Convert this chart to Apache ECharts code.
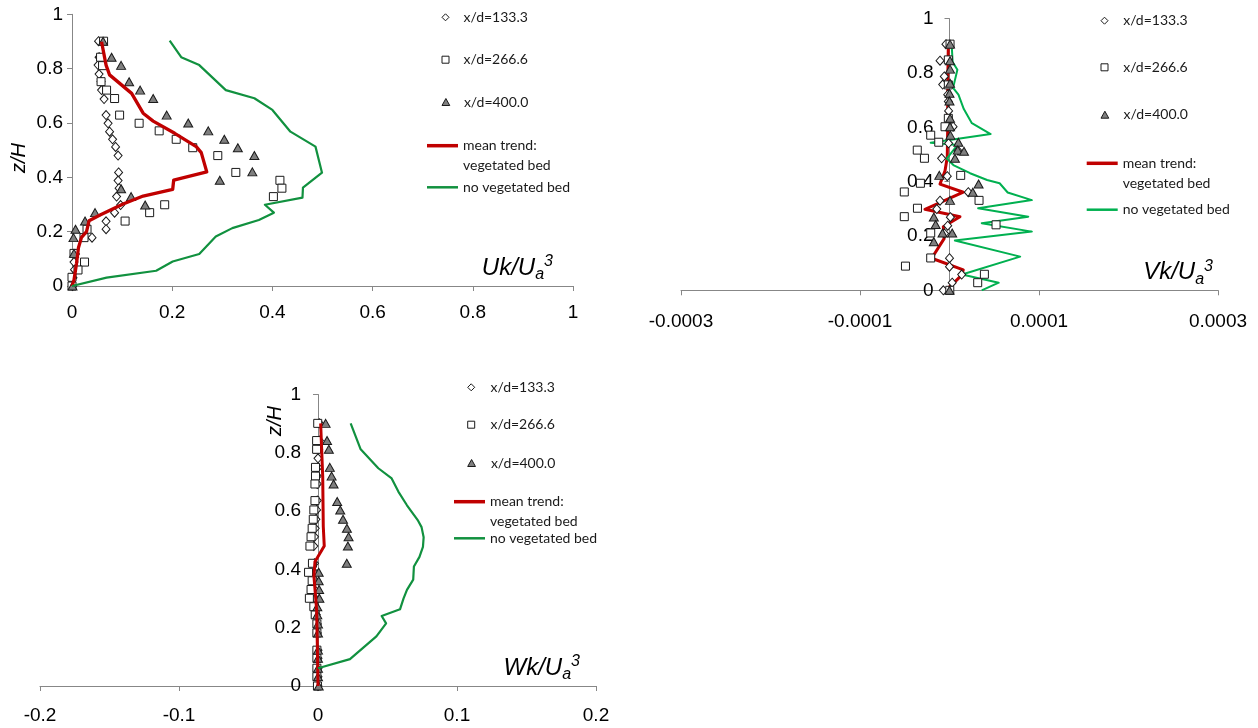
<!DOCTYPE html>
<html>
<head>
<meta charset="utf-8">
<script src="https://cdn.jsdelivr.net/npm/echarts@6/dist/echarts.min.js"></script>
<style>
  html, body { margin: 0; padding: 0; background: #fff; }
  #chart { width: 1258px; height: 728px; }
</style>
</head>
<body>
<div id="chart"></div>
<script>
// Legend names shared by the three panels
const seriesNames = ['x/d=133.3', 'x/d=266.6', 'x/d=400.0', 'mean trend:\nvegetated bed', 'no vegetated bed'];

// Axis ticks
const uTicks = { min: 0, max: 1, interval: 0.2 };
const vTicks = { min: -0.0003, max: 0.0003, interval: 0.0002 };
const wTicks = { min: -0.2, max: 0.2, interval: 0.1 };
const zTicks = { min: 0, max: 1, interval: 0.2 };

// ---- Uk/Ua^3 profiles : [value, z/H] ----
const uk133 = [[0.053,0.901],[0.054,0.842],[0.052,0.813],[0.054,0.780],[0.058,0.753],[0.059,0.721],[0.064,0.688],
  [0.068,0.629],[0.072,0.599],[0.075,0.568],[0.081,0.540],[0.087,0.512],[0.092,0.480],[0.093,0.418],[0.092,0.388],
  [0.094,0.360],[0.089,0.329],[0.097,0.298],[0.085,0.270],[0.068,0.238],[0.068,0.209],[0.040,0.178],[0.007,0.118],
  [0.004,0.088],[0.005,0.060],[0.002,0.030],[0.001,0.000]];
const uk266 = [[0.063,0.901],[0.057,0.842],[0.061,0.811],[0.058,0.752],[0.069,0.721],[0.085,0.690],[0.095,0.629],
  [0.134,0.599],[0.174,0.571],[0.208,0.540],[0.241,0.509],[0.291,0.480],[0.327,0.418],[0.415,0.389],[0.419,0.360],
  [0.402,0.329],[0.185,0.299],[0.155,0.270],[0.106,0.239],[0.030,0.209],[0.024,0.178],[0.004,0.120],[0.025,0.088],
  [0.012,0.059],[0.000,0.032],[0.000,0.000]];
const uk400 = [[0.062,0.901],[0.079,0.842],[0.098,0.812],[0.114,0.752],[0.136,0.721],[0.162,0.690],[0.189,0.629],
  [0.232,0.600],[0.272,0.571],[0.304,0.540],[0.331,0.509],[0.364,0.480],[0.360,0.420],[0.295,0.389],[0.098,0.358],
  [0.118,0.329],[0.146,0.298],[0.046,0.270],[0.026,0.239],[0.007,0.209],[0.003,0.178],[0.004,0.120],[0.001,0.000]];
const ukVegetated = [[0.059,0.899],[0.068,0.813],[0.075,0.777],[0.119,0.709],[0.142,0.636],[0.162,0.607],[0.205,0.562],
  [0.248,0.513],[0.258,0.491],[0.269,0.420],[0.203,0.390],[0.201,0.356],[0.142,0.331],[0.102,0.302],[0.056,0.261],
  [0.034,0.240],[0.029,0.200],[0.019,0.179],[0.013,0.142],[0.009,0.083],[0.004,0.022],[0.000,0.000]];
const ukBare = [[0.195,0.903],[0.218,0.842],[0.254,0.813],[0.307,0.721],[0.364,0.691],[0.400,0.648],[0.436,0.568],
  [0.486,0.513],[0.499,0.417],[0.461,0.362],[0.460,0.325],[0.385,0.299],[0.403,0.270],[0.373,0.243],[0.320,0.213],
  [0.287,0.182],[0.254,0.118],[0.201,0.090],[0.168,0.056],[0.069,0.031],[0.000,0.000]];

// ---- Vk/Ua^3 profiles ----
const vk133 = [[-0.4e-5,0.906],[-1.06e-5,0.845],[-0.58e-5,0.787],[-0.76e-5,0.757],[-0.2e-5,0.720],[-0.13e-5,0.695],
  [-0.1e-5,0.660],[0.4e-5,0.602],[-0.1e-5,0.541],[0.95e-5,0.514],[-0.88e-5,0.486],[-0.25e-5,0.420],[2.1e-5,0.361],
  [-1.06e-5,0.330],[-1.42e-5,0.299],[0.1e-5,0.269],[-0.2e-5,0.238],[-0.55e-5,0.209],[0.0,0.118],[0.0,0.087],
  [1.36e-5,0.058],[0.3e-5,0.028],[-0.69e-5,0.000]];
const vk266 = [[0.06e-5,0.906],[-0.13e-5,0.848],[-0.13e-5,0.756],[-0.13e-5,0.633],[-0.5e-5,0.602],[-2.1e-5,0.571],
  [-1.2e-5,0.545],[-3.6e-5,0.516],[-2.8e-5,0.486],[1.25e-5,0.423],[-3.25e-5,0.394],[-5.05e-5,0.362],[3.3e-5,0.331],
  [-3.58e-5,0.302],[-5.05e-5,0.271],[5.2e-5,0.241],[-2.1e-5,0.211],[-2.1e-5,0.119],[-4.92e-5,0.089],[3.9e-5,0.059],
  [3.15e-5,0.028],[0.03e-5,0.000]];
const vk400 = [[0.06e-5,0.906],[0.06e-5,0.845],[0.06e-5,0.814],[0.06e-5,0.762],[0.0,0.725],[0.0,0.697],[0.06e-5,0.633],
  [0.06e-5,0.602],[0.1e-5,0.571],[0.99e-5,0.545],[0.92e-5,0.516],[1.62e-5,0.512],[0.61e-5,0.486],[-1.14e-5,0.423],
  [3.25e-5,0.391],[2.6e-5,0.361],[0.06e-5,0.331],[-1.75e-5,0.270],[-1.55e-5,0.242],[0.3e-5,0.211],[-0.78e-5,0.211],
  [-1.75e-5,0.179],[0.0,0.000]];
const vkVegetated = [[-0.13e-5,0.906],[-0.2e-5,0.750],[-0.2e-5,0.600],[-0.25e-5,0.490],[-0.5e-5,0.440],[-1.06e-5,0.391],
  [1.54e-5,0.361],[-2.74e-5,0.298],[1.17e-5,0.271],[-0.69e-5,0.234],[-0.6e-5,0.190],[-1.99e-5,0.118],[1.54e-5,0.075],
  [1.36e-5,0.056],[0.24e-5,0.019],[-0.5e-5,0.000]];
const vkBare = [[0.24e-5,0.906],[0.35e-5,0.840],[0.88e-5,0.812],[0.4e-5,0.745],[1.0e-5,0.720],[1.6e-5,0.667],
  [2.5e-5,0.615],[4.6e-5,0.575],[-2.1e-5,0.543],[0.9e-5,0.535],[-0.3e-5,0.485],[0.43e-5,0.461],[2.3e-5,0.431],
  [4.2e-5,0.406],[5.6e-5,0.394],[6.5e-5,0.360],[9.2e-5,0.332],[3.2e-5,0.302],[8.8e-5,0.271],[3.6e-5,0.247],
  [9.2e-5,0.216],[0.6e-5,0.183],[7.9e-5,0.124],[1.4e-5,0.058],[5.5e-5,0.028],[3.6e-5,0.000]];

// ---- Wk/Ua^3 profiles ----
const wk133 = [[0.001,0.901],[0.001,0.842],[0.0005,0.812],[0.0,0.781],[0.0,0.750],[-0.0005,0.720],[-0.0005,0.693],
  [-0.0005,0.636],[-0.001,0.604],[-0.0015,0.572],[-0.002,0.541],[-0.0025,0.512],[-0.003,0.480],[-0.0025,0.421],
  [-0.003,0.390],[-0.002,0.361],[-0.0025,0.331],[-0.002,0.301],[-0.002,0.272],[-0.0012,0.244],[-0.0005,0.213],
  [-0.0005,0.182],[0.0,0.123],[0.0,0.095],[0.0,0.061],[0.0,0.032],[0.0,0.000]];
const wk266 = [[-0.0002,0.901],[-0.001,0.842],[-0.001,0.812],[-0.0018,0.750],[-0.0018,0.720],[-0.0022,0.693],
  [-0.0022,0.636],[-0.003,0.604],[-0.0034,0.572],[-0.0042,0.541],[-0.005,0.512],[-0.0058,0.480],[-0.004,0.421],
  [-0.0068,0.390],[-0.0042,0.361],[-0.005,0.331],[-0.0062,0.301],[-0.003,0.272],[-0.002,0.244],[-0.0008,0.213],
  [-0.0008,0.182],[-0.0008,0.123],[-0.0008,0.095],[-0.0008,0.061],[-0.0008,0.032],[-0.0004,0.000]];
const wk400 = [[0.0055,0.901],[0.0065,0.842],[0.0078,0.812],[0.0085,0.750],[0.0098,0.720],[0.0112,0.693],
  [0.0138,0.633],[0.016,0.604],[0.018,0.572],[0.0208,0.541],[0.022,0.512],[0.0215,0.480],[0.0207,0.421],
  [0.0005,0.390],[0.0005,0.361],[0.0008,0.331],[0.001,0.301],[-0.0005,0.272],[-0.0005,0.244],[0.0,0.213],
  [0.0,0.182],[0.0,0.123],[0.0,0.095],[0.0,0.061],[0.0,0.032],[0.0005,0.000]];
const wkVegetated = [[0.0019,0.901],[0.0034,0.718],[0.0038,0.547],[0.0045,0.480],[-0.0022,0.426],[-0.0029,0.375],
  [-0.001,0.261],[-0.0005,0.146],[0.0,0.000]];
const wkBare = [[0.0235,0.901],[0.0307,0.812],[0.0434,0.747],[0.053,0.712],[0.0578,0.667],[0.064,0.620],
  [0.072,0.567],[0.0745,0.545],[0.076,0.510],[0.0755,0.477],[0.073,0.443],[0.069,0.410],[0.0685,0.365],
  [0.064,0.330],[0.0615,0.300],[0.059,0.263],[0.0458,0.240],[0.049,0.215],[0.042,0.170],[0.023,0.092],[0.0,0.061]];

// ---------------------------------------------------------------
const AXIS_GREY = '#878787';
const RED = '#C00000';
const GREEN_DARK = '#11913F';
const GREEN_LIGHT = '#00B050';
const TRI_FILL = '#7F7F7F';
const LABEL_FONT = 'Liberation Sans';
const LEGEND_FONT = 'Lato';
const LEGEND_SIZE = 14;

const ICON_DIAMOND = 'path://M5,0 L10,5 L5,10 L0,5 Z';
const ICON_SQUARE = 'path://M0,0 L10,0 L10,10 L0,10 Z';
const ICON_TRIANGLE = 'path://M5,0 L10,9 L0,9 Z';

// "Xk/Ua3" axis title with subscript a and superscript 3
function axisTitle(letter, gap) {
  const base = { fontFamily: LABEL_FONT, fontStyle: 'italic', color: '#000' };
  return {
    name: '{m|' + letter + 'k/U}{s|a}{p|3}',
    nameLocation: 'end',
    nameGap: gap,
    nameTextStyle: {
      align: 'right', verticalAlign: 'bottom', padding: [0, 0, 3, 0],
      rich: {
        m: Object.assign({ fontSize: 24, lineHeight: 29 }, base),
        s: Object.assign({ fontSize: 16, lineHeight: 13, verticalAlign: 'bottom' }, base),
        p: Object.assign({ fontSize: 16, lineHeight: 15, verticalAlign: 'top' }, base)
      }
    }
  };
}

function valueAxis(grid, ticks, labelMargin, extra) {
  return Object.assign({
    type: 'value', gridIndex: grid,
    min: ticks.min, max: ticks.max, interval: ticks.interval,
    splitLine: { show: false },
    axisLine: { show: true, onZero: false, lineStyle: { color: AXIS_GREY, width: 1 } },
    axisTick: { show: true, length: 5, lineStyle: { color: AXIS_GREY } },
    axisLabel: { fontFamily: LABEL_FONT, fontSize: 19, color: '#000', margin: labelMargin },
    animation: false
  }, extra || {});
}

function markers(name, data, idx, icon, size, fill, z) {
  return {
    type: 'scatter', name, data, xAxisIndex: idx, yAxisIndex: idx,
    symbol: icon, symbolSize: size, z, silent: true,
    itemStyle: { color: fill, borderColor: '#1a1a1a', borderWidth: 1, opacity: 1 }
  };
}

function trace(name, data, idx, color, width, z) {
  return {
    type: 'line', name, data, xAxisIndex: idx, yAxisIndex: idx,
    symbol: 'none', showSymbol: false, z, silent: true,
    lineStyle: { color, width, join: 'round' }, itemStyle: { color }
  };
}

// One legend component per row, so each row sits exactly where it belongs
function legendRows(textX, markerX, rows, green) {
  const out = [];
  const mW = 2 * (textX - 5 - markerX);
  const lineW = 31;
  const text = { fontFamily: LEGEND_FONT, fontSize: LEGEND_SIZE, color: '#1a1a1a' };
  const base = { orient: 'horizontal', padding: 0, selectedMode: false, textStyle: text };
  const icons = [ICON_DIAMOND, ICON_SQUARE, ICON_TRIANGLE];
  const fills = ['#fff', '#fff', TRI_FILL];
  for (let i = 0; i < 3; i++) {
    out.push(Object.assign({}, base, {
      left: markerX - 3.5, top: rows[i] - 9,
      itemWidth: mW, itemHeight: 7,
      data: [{ name: seriesNames[i], icon: icons[i] }],
      itemStyle: { color: fills[i], borderColor: '#1a1a1a', borderWidth: 1 },
      formatter: n => '{a|' + n + '}',
      textStyle: Object.assign({}, text, { rich: { a: Object.assign({ lineHeight: 18 }, text) } })
    }));
  }
  // two-line label: a blank first line keeps "mean trend:" level with the line icon
  out.push(Object.assign({}, base, {
    left: textX - 5 - lineW, top: rows[3] - 27,
    itemWidth: lineW, itemHeight: 3.5,
    data: [{ name: seriesNames[3], icon: 'rect' }],
    itemStyle: { color: RED, borderWidth: 0 },
    formatter: n => '{a| }\n' + n.split('\n').map(s => '{a|' + s + '}').join('\n'),
    textStyle: Object.assign({}, text, { rich: { a: Object.assign({ lineHeight: 20 }, text) } })
  }));
  out.push(Object.assign({}, base, {
    left: textX - 5 - lineW, top: rows[4] - 8,
    itemWidth: lineW, itemHeight: 2.5,
    data: [{ name: seriesNames[4], icon: 'rect' }],
    itemStyle: { color: green, borderWidth: 0 },
    formatter: n => '{a|' + n + '}',
    textStyle: Object.assign({}, text, { rich: { a: Object.assign({ lineHeight: 18 }, text) } })
  }));
  return out;
}

const chart = echarts.init(document.getElementById('chart'), null, { renderer: 'canvas' });

const zTitle = { fontFamily: LABEL_FONT, fontStyle: 'italic', fontSize: 20, fill: '#000', align: 'center', verticalAlign: 'middle' };

const option = {
  backgroundColor: '#fff',
  animation: false,
  grid: [
    { left: 72, right: 685, top: 14.3, bottom: 442, containLabel: false },
    { left: 681, right: 40, top: 18.6, bottom: 437.7, containLabel: false },
    { left: 40, right: 662, top: 394.5, bottom: 42, containLabel: false }
  ],
  xAxis: [
    valueAxis(0, uTicks, 17, axisTitle('U', -20)),
    valueAxis(1, vTicks, 22, Object.assign(axisTitle('V', -5), {
      axisLabel: { fontFamily: LABEL_FONT, fontSize: 19, color: '#000', margin: 22,
        formatter: v => v.toFixed(4) }
    })),
    valueAxis(2, wTicks, 20, axisTitle('W', -16))
  ],
  yAxis: [
    valueAxis(0, zTicks, 9),
    // vertical axes of the V and W panels stand on x = 0
    valueAxis(1, zTicks, 16, { offset: -268.5 }),
    valueAxis(2, zTicks, 17, { offset: -278 })
  ],
  legend: [].concat(
    legendRows(463, 445, [19.3, 61.7, 104, 145.7, 188.3], GREEN_DARK),
    legendRows(1122.7, 1104, [22.7, 69.3, 116.7, 163.3, 210.7], GREEN_LIGHT),
    legendRows(490, 470.7, [389.3, 426.7, 465, 501.7, 539.3], GREEN_DARK)
  ),
  graphic: [
    { type: 'text', x: 19, y: 158, rotation: Math.PI / 2, style: Object.assign({ text: 'z/H' }, zTitle) },
    { type: 'text', x: 275, y: 421, rotation: Math.PI / 2, style: Object.assign({ text: 'z/H' }, zTitle) }
  ],
  series: [
    // Uk panel: curves drawn over the markers
    markers(seriesNames[0], uk133, 0, 'diamond', [8, 9], '#fff', 2),
    markers(seriesNames[1], uk266, 0, 'rect', 8, '#fff', 2),
    markers(seriesNames[2], uk400, 0, 'triangle', [9, 8], TRI_FILL, 2),
    trace(seriesNames[3], ukVegetated, 0, RED, 3.3, 3),
    trace(seriesNames[4], ukBare, 0, GREEN_DARK, 2.2, 3),
    // Vk panel: markers drawn over the curves
    trace(seriesNames[3], vkVegetated, 1, RED, 3, 2),
    trace(seriesNames[4], vkBare, 1, GREEN_LIGHT, 2, 2),
    markers(seriesNames[0], vk133, 1, 'diamond', [8, 9], '#fff', 3),
    markers(seriesNames[1], vk266, 1, 'rect', 8, '#fff', 3),
    markers(seriesNames[2], vk400, 1, 'triangle', [9, 8], TRI_FILL, 3),
    // Wk panel
    markers(seriesNames[0], wk133, 2, 'diamond', [8, 9], '#fff', 2),
    markers(seriesNames[1], wk266, 2, 'rect', 8, '#fff', 2),
    markers(seriesNames[2], wk400, 2, 'triangle', [9, 8], TRI_FILL, 2),
    trace(seriesNames[3], wkVegetated, 2, RED, 3, 3),
    trace(seriesNames[4], wkBare, 2, GREEN_DARK, 2.2, 3)
  ]
};

chart.setOption(option);
</script>
</body>
</html>
